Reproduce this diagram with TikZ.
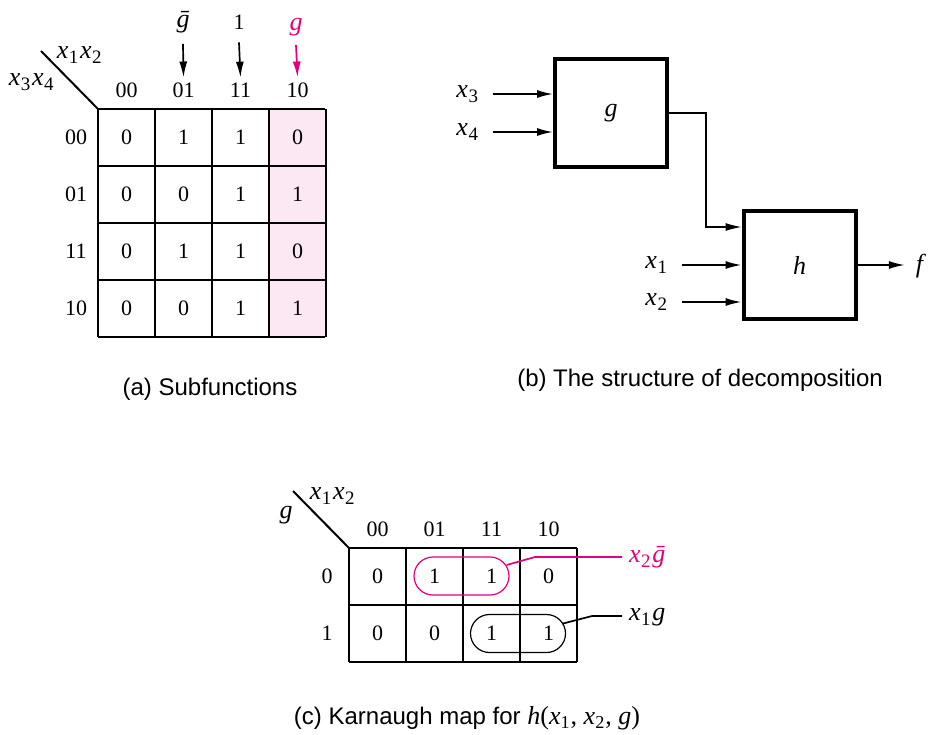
\documentclass[tikz,border=0pt]{standalone}
\usepackage{fontspec}
\setmainfont{Liberation Serif}
\newfontfamily\capfont{Liberation Sans}
\usetikzlibrary{arrows.meta,positioning}
\definecolor{kmag}{RGB}{228,0,124}
\definecolor{kpink}{RGB}{252,232,242}
\newcommand{\vx}[1]{\textit{x}\kern0.3pt\raisebox{-0.45ex}{\fontsize{9.5}{10}\selectfont#1}\kern0.8pt}
\newcommand{\gbar}{\textit{\={g}}}
\tikzset{
  kgrid/.style={line width=1.3pt},
  kbox/.style={draw, line width=2pt, minimum width=56pt, minimum height=54pt},
  wire/.style={line width=0.85pt},
  kloop/.style={draw, line width=0.6pt, rounded corners=9.5pt, minimum width=47.5pt, minimum height=19pt},
  lbl/.style={font=\fontsize{11}{13}\selectfont},
  vlbl/.style={font=\fontsize{13}{15}\selectfont},
  captext/.style={font=\capfont\fontsize{12}{14}\selectfont}
}

\begin{document}
\begin{tikzpicture}[x=0.5pt,y=-0.5pt,>={Latex[length=8pt,width=4pt]},every node/.style={lbl}]
\useasboundingbox (0,0) rectangle (951,734);

% (a) map of subfunctions
\fill[kpink] (268,109) rectangle (325,337);
\foreach \i in {0,...,4} {
  \draw[kgrid] (98+57*\i,109) -- (98+57*\i,337);
  \draw[kgrid] (98,109+57*\i) -- (325,109+57*\i);
}
\draw[line width=1pt] (41,51) -- (98,109);
\node[vlbl] (va) at (80,55) {\vx1\vx2};
\node[vlbl] (ha) at (32,82) {\vx3\vx4};
\foreach \col [count=\c] in {00,01,11,10}
  \node (ca\c) at (69.5+57*\c,90) {\col};
\foreach \row/\vals [count=\r] in {00/{0,1,1,0},01/{0,0,1,1},11/{0,1,1,0},10/{0,0,1,1}} {
  \node (ra\r) at (76,80.5+57*\r) {\row};
  \foreach \v [count=\c] in \vals
    \node (a\r\c) at (69.5+57*\c,80.5+57*\r) {\v};
}
\node[vlbl] (ng) at (183,22) {\gbar};
\node (one) at (239,22) {1};
\node[vlbl,text=kmag] (pg) at (296,27) {\textit{g}};
\draw[wire,->] ([yshift=-2pt]ng.south) -- ([yshift=-1pt]ca2.north);
\draw[wire,->] ([yshift=-3pt]one.south) -- ([yshift=-1pt]ca3.north);
\draw[wire,->,kmag] ([yshift=-1pt]pg.south) -- ([yshift=-1pt]ca4.north);
\node[captext] (capa) at (210,389) {(a) Subfunctions};

% (b) decomposition
\node[kbox,vlbl] (gbox) at (611,113) {\textit{g}};
\node[kbox,vlbl] (hbox) at (799.5,265) {\textit{h}};
\node[vlbl] (x3) at (468,94) {\vx3};
\node[vlbl] (x4) at (468,132) {\vx4};
\node[vlbl] (x1) at (657,265) {\vx1};
\node[vlbl] (x2) at (657,302) {\vx2};
\node[vlbl] (f) at (921,266) {\textit{f}};
\draw[wire,->] ([xshift=3pt]x3.east) -- (x3.east -| gbox.west);
\draw[wire,->] ([xshift=3pt]x4.east) -- (x4.east -| gbox.west);
\draw[wire,->] ([xshift=3pt]x1.east) -- (x1.east -| hbox.west);
\draw[wire,->] ([xshift=3pt]x2.east) -- (x2.east -| hbox.west);
\coordinate (gh) at (706,227);
\draw[line width=0.6pt,->] (gbox.east) -| (gh) -- (gh -| hbox.west);
\draw[wire,->] (hbox.east) -- ([xshift=-2pt]f.west |- hbox.east);
\node[captext] (capb) at (700,380) {(b) The structure of decomposition};

% (c) map for h
\foreach \i in {0,...,4}
  \draw[kgrid] (349+57*\i,548) -- (349+57*\i,662);
\foreach \i in {0,...,2}
  \draw[kgrid] (349,548+57*\i) -- (577,548+57*\i);
\draw[line width=1pt] (293,491) -- (349,548);
\node[vlbl] (vc) at (333,496) {\vx1\vx2};
\node[vlbl] (hc) at (286,515) {\textit{g}};
\foreach \col [count=\c] in {00,01,11,10}
  \node (cc\c) at (320.5+57*\c,529) {\col};
\foreach \row/\vals [count=\r] in {0/{0,1,1,0},1/{0,0,1,1}} {
  \node (rc\r) at (327,519.5+57*\r) {\row};
  \foreach \v [count=\c] in \vals
    \node (c\r\c) at (320.5+57*\c,519.5+57*\r) {\v};
}
\node[kloop,draw=kmag] (lp1) at (461.5,576) {};
\node[kloop] (lp2) at (518,633.5) {};
\node[vlbl,text=kmag,anchor=west] (t1) at (622,557) {\vx2\gbar};
\node[vlbl,anchor=west] (t2) at (622,617) {\vx1\textit{g}};
\draw[wire,kmag] ([shift={(-1.5pt,5.5pt)}]lp1.east) -- (535,557) -- (t1.west);
\draw[wire] ([shift={(-1.5pt,5pt)}]lp2.east) -- (592,616) -- (t2.west |- 0,616);
\node[captext] (capc) at (467,718) {(c) Karnaugh map for {\rmfamily\fontsize{13}{15}\selectfont\textit{h}(\textit{x}\textsubscript{1}, \textit{x}\textsubscript{2}, \textit{g})}};
\end{tikzpicture}
\end{document}
